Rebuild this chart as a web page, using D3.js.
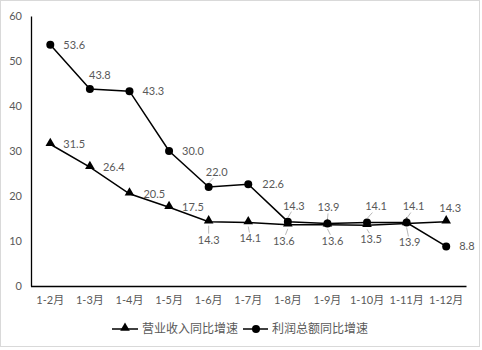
<!DOCTYPE html>
<html><head><meta charset="utf-8">
<script src="https://cdn.jsdelivr.net/npm/d3@7"></script>
<style>
html,body{margin:0;padding:0;background:#fff;}
text{font-family:Lato,"Noto Sans CJK SC",sans-serif;}
</style></head>
<body><svg id="c" width="482" height="350"></svg>
<script>
const categories = ["1-2月","1-3月","1-4月","1-5月","1-6月","1-7月","1-8月","1-9月","1-10月","1-11月","1-12月"];
const revenueName = "营业收入同比增速";
const profitName = "利润总额同比增速";
const revenue = [31.5,26.4,20.5,17.5,14.3,14.1,13.6,13.6,13.5,13.9,14.3];
const profit = [53.6,43.8,43.3,30.0,22.0,22.6,14.3,13.9,14.1,14.1,8.8];
const yTicks = [0,10,20,30,40,50,60];
// label placement (dx, dy from point, leader flag)
const revenueLabelPos = [[13,0,0],[13,0,0],[14,0,0],[13,0,0],[0,18,1],[2,16,1],[-4,16,1],[5,16,1],[4,14,1],[3,19,1],[4,-14,0]];
const profitLabelPos = [[13,0,0],[10,-14,0],[13,0,0],[13,0,0],[8,-15,1],[14,0,0],[6,-16,1],[1,-16,1],[9,-16,1],[7,-16,1],[13,0,0]];

const svg = d3.select("#c");
const textColor = "#595959";
svg.append("rect").attr("x",0.5).attr("y",0.5).attr("width",479).attr("height",346)
  .attr("fill","#fff").attr("stroke","#d9d9d9");

const x = d3.scaleBand().domain(categories).range([30.5,466]);
const y = d3.scaleLinear().domain([0,60]).range([286,16]);
const cx = c => x(c) + x.bandwidth()/2;

const yAxis = svg.append("g").attr("transform","translate(31,0)")
  .call(d3.axisLeft(y).tickValues(yTicks).tickSize(0).tickPadding(9));
yAxis.select(".domain").attr("stroke","#000").attr("stroke-width",1.3);
yAxis.selectAll("text").attr("fill",textColor).style("font-size","11px");

const xAxis = svg.append("g").attr("transform","translate(0,286)")
  .call(d3.axisBottom(x).tickSize(0).tickPadding(10));
xAxis.select(".domain").attr("stroke","#000").attr("stroke-width",1.3);
xAxis.selectAll("text").attr("fill",textColor).style("font-size","11px");

const line = d3.line().x((d,i)=>cx(categories[i])).y(d=>y(d));
const tri = d3.symbol().type(d3.symbolTriangle).size(40);

function drawSeries(vals, marker){
  svg.append("path").datum(vals).attr("d",line).attr("fill","none")
    .attr("stroke","#000").attr("stroke-width",1.5);
  const g = svg.append("g");
  if(marker==="tri"){
    g.selectAll("path").data(vals).join("path").attr("d",tri)
      .attr("transform",(d,i)=>`translate(${cx(categories[i])},${y(d)-1})`).attr("fill","#000");
  } else {
    g.selectAll("circle").data(vals).join("circle")
      .attr("cx",(d,i)=>cx(categories[i])).attr("cy",d=>y(d)).attr("r",4).attr("fill","#000");
  }
}
drawSeries(revenue,"tri");
drawSeries(profit,"circle");

function drawLabels(vals, pos){
  const g = svg.append("g");
  vals.forEach((v,i)=>{
    const px = cx(categories[i]), py = y(v);
    const [dx,dy,lead] = pos[i];
    const anchor = dx>=12 ? "start" : "middle";
    const lx = dx>=12 ? px+dx : px+dx;
    const ly = py+dy;
    if(lead){
      const dir = dy<0 ? -1 : 1;
      g.append("line").attr("x1",px).attr("y1",py+dir*4)
        .attr("x2",px+dx*0.6).attr("y2",ly-dir*6)
        .attr("stroke","#a6a6a6").attr("stroke-width",0.8);
    }
    g.append("text").attr("x",lx).attr("y",ly).attr("dy","0.35em")
      .attr("text-anchor",anchor).attr("fill",textColor).style("font-size","11px")
      .text(v.toFixed(1));
  });
}
drawLabels(revenue, revenueLabelPos);
drawLabels(profit, profitLabelPos);

// legend
const leg = svg.append("g");
const ly = 329;
leg.append("line").attr("x1",112).attr("x2",138).attr("y1",ly).attr("y2",ly).attr("stroke","#000").attr("stroke-width",1.5);
leg.append("path").attr("d",tri).attr("transform",`translate(125,${ly-1})`).attr("fill","#000");
leg.append("text").attr("x",142).attr("y",ly).attr("dy","0.35em").attr("fill",textColor).style("font-size","12px").text(revenueName);
leg.append("line").attr("x1",243).attr("x2",268).attr("y1",ly).attr("y2",ly).attr("stroke","#000").attr("stroke-width",1.5);
leg.append("circle").attr("cx",256).attr("cy",ly).attr("r",4).attr("fill","#000");
leg.append("text").attr("x",272).attr("y",ly).attr("dy","0.35em").attr("fill",textColor).style("font-size","12px").text(profitName);
</script></body></html>
